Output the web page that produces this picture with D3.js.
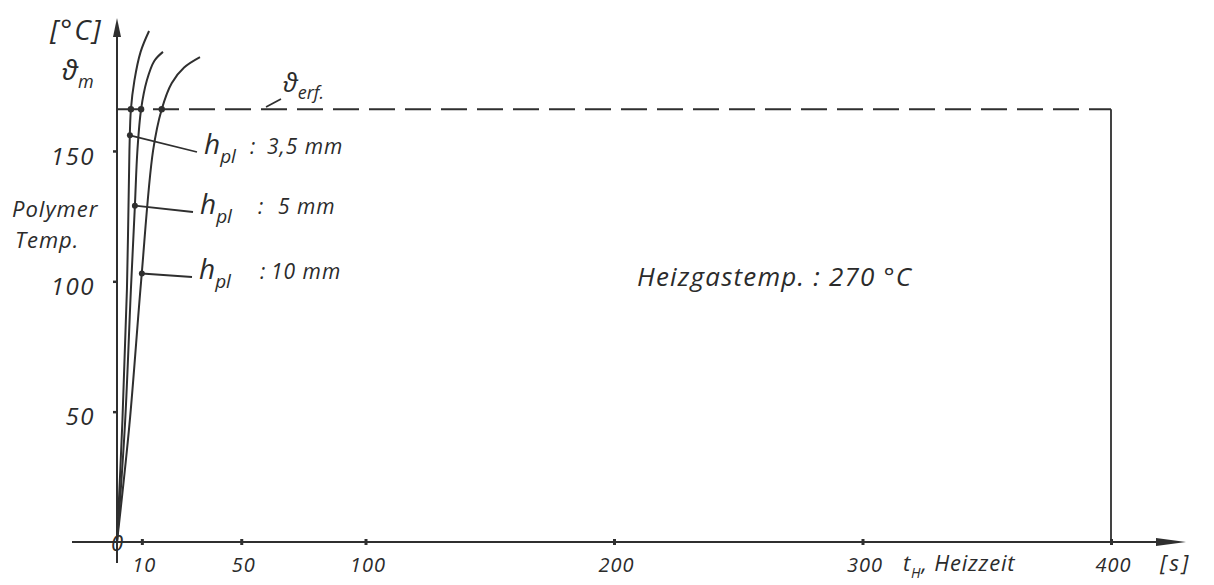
<!DOCTYPE html>
<html>
<head>
<meta charset="utf-8">
<script src="https://cdn.jsdelivr.net/npm/d3@7"></script>
<style>
  body { margin: 0; background: #fff; }
  svg text { font-family: "Open Sans", "DejaVu Sans", sans-serif; font-style: italic; fill: #2b2b2b; }
</style>
</head>
<body>
<svg id="chart" width="1214" height="585"></svg>
<script>
// heating time [s] vs polymer temperature [°C]
var xTicks = [10, 50, 100, 200, 300, 400];
var yTicks = [50, 100, 150];
var tErf = 166;      // required temperature (dashed line)
var tEnd = 400;      // end of the time window

var names = ["3,5 mm", "5 mm", "10 mm"];
var curve35 = [[0,0],[2.2,47],[4,97],[5,150],[5.6,166],[7,177],[9.5,188],[12.9,196]];
var curve5  = [[0,0],[3.2,45],[5.6,97],[7.2,129],[8.2,150],[9.7,166],[12,177],[15,184.5],[18.5,188]];
var curve10 = [[0,0],[5,45],[9.7,100],[14.5,150],[18,166],[22,176],[27,182],[33.4,186]];
var erfHits = [5.6, 9.7, 18];                 // where each curve meets the dashed line
var labelPts = [[5.2,156],[7.2,129],[10,103]]; // points the labels point at

var ink = "#2f2f2f";
var svg = d3.select("#chart");

var x = d3.scaleLinear().domain([0, 400]).range([117, 1111]);
var y = d3.scaleLinear().domain([0, 200]).range([542, 20.6]);

// axes ---------------------------------------------------------------
var xAxis = svg.append("g")
    .attr("transform", "translate(0," + y(0) + ")")
    .call(d3.axisBottom(x).tickValues(xTicks).tickSize(3).tickPadding(13));
xAxis.select(".domain").remove();
xAxis.selectAll(".tick line").attr("y1", -3).attr("y2", 3).attr("stroke", ink).attr("stroke-width", 3);
xAxis.selectAll(".tick text").attr("font-size", 20).attr("dx", 2).attr("letter-spacing", 1);

var yAxis = svg.append("g")
    .attr("transform", "translate(" + x(0) + ",0)")
    .call(d3.axisLeft(y).tickValues(yTicks).tickSize(4).tickPadding(18));
yAxis.select(".domain").remove();
yAxis.selectAll(".tick line").attr("x1", -4).attr("x2", 1).attr("stroke", ink).attr("stroke-width", 2.5);
yAxis.selectAll(".tick text").attr("font-size", 24).attr("dy", "0.55em").attr("letter-spacing", 1.5);
svg.selectAll(".tick text").attr("font-family", null).style("fill", "#2b2b2b");

// axis lines with arrows
svg.append("line").attr("x1", 72).attr("x2", 1160).attr("y1", y(0)).attr("y2", y(0))
    .attr("stroke", ink).attr("stroke-width", 2);
svg.append("path").attr("d", "M1186," + y(0) + "L1156," + (y(0) - 4) + "L1156," + (y(0) + 4) + "Z")
    .attr("fill", ink);
svg.append("line").attr("x1", x(0)).attr("x2", x(0)).attr("y1", 563).attr("y2", 34)
    .attr("stroke", ink).attr("stroke-width", 2);
svg.append("path").attr("d", "M" + x(0) + ",18L" + (x(0) - 4) + ",37L" + (x(0) + 4) + ",37Z")
    .attr("fill", ink);

svg.append("text").attr("x", x(0)).attr("y", y(0)).attr("text-anchor", "middle")
    .attr("dominant-baseline", "central").attr("font-size", 22).text("0");

// required temperature and end of window
svg.append("line").attr("x1", x(0)).attr("x2", x(tEnd)).attr("y1", y(tErf)).attr("y2", y(tErf))
    .attr("stroke", ink).attr("stroke-width", 2).attr("stroke-dasharray", "26,10");
svg.append("line").attr("x1", x(tEnd)).attr("x2", x(tEnd)).attr("y1", y(tErf)).attr("y2", y(0))
    .attr("stroke", ink).attr("stroke-width", 1.8);

// curves -------------------------------------------------------------
var line = d3.line().x(function(d){ return x(d[0]); }).y(function(d){ return y(d[1]); })
    .curve(d3.curveCatmullRom.alpha(0.5));
[curve35, curve5, curve10].forEach(function(c){
  svg.append("path").attr("d", line(c)).attr("fill", "none")
      .attr("stroke", ink).attr("stroke-width", 2);
});

erfHits.forEach(function(t){
  svg.append("circle").attr("cx", x(t)).attr("cy", y(tErf)).attr("r", 3.2).attr("fill", ink);
});

// labels with leader lines
var labelAt = [[197, 152], [193, 212], [192, 277]];
var colonX = [250, 258, 260];
var nameX = [267, 278, 271];
labelPts.forEach(function(p, i){
  svg.append("circle").attr("cx", x(p[0])).attr("cy", y(p[1])).attr("r", 3).attr("fill", ink);
  svg.append("line").attr("x1", x(p[0])).attr("y1", y(p[1]))
      .attr("x2", labelAt[i][0]).attr("y2", labelAt[i][1])
      .attr("stroke", ink).attr("stroke-width", 1.8);
  var t = svg.append("text").attr("x", labelAt[i][0] + 7).attr("y", labelAt[i][1] + 2);
  t.append("tspan").attr("font-size", 28).text("h");
  t.append("tspan").attr("font-size", 19).attr("dy", 9).text("pl");
  t.append("tspan").attr("font-size", 21).attr("dy", -9).attr("x", colonX[i]).text(":");
  t.append("tspan").attr("font-size", 21).attr("x", nameX[i]).attr("letter-spacing", 1).text(names[i]);
});

// text ---------------------------------------------------------------
svg.append("text").attr("x", 50).attr("y", 40).attr("font-size", 28).attr("letter-spacing", 2).text("[°C]");
var th = svg.append("text").attr("x", 62).attr("y", 80);
th.append("tspan").attr("font-size", 28).text("ϑ");
th.append("tspan").attr("font-size", 18).attr("dy", 8).text("m");

svg.append("text").attr("x", 12).attr("y", 217).attr("font-size", 22).attr("letter-spacing", 1).text("Polymer");
svg.append("text").attr("x", 15).attr("y", 248).attr("font-size", 22).attr("letter-spacing", 1).text("Temp.");

svg.append("line").attr("x1", 266).attr("y1", 107).attr("x2", 281).attr("y2", 99)
    .attr("stroke", ink).attr("stroke-width", 1.6);
var te = svg.append("text").attr("x", 283).attr("y", 92);
te.append("tspan").attr("font-size", 26).text("ϑ");
te.append("tspan").attr("font-size", 18).attr("dy", 7).text("erf.");

svg.append("text").attr("x", 637).attr("y", 286).attr("font-size", 26).attr("letter-spacing", 1.2)
    .text("Heizgastemp. : 270 °C");

var tl = svg.append("text").attr("x", 903).attr("y", 571).attr("font-size", 22).attr("letter-spacing", 0.8);
tl.append("tspan").text("t");
tl.append("tspan").attr("font-size", 14).attr("dy", 7).text("H");
tl.append("tspan").attr("dy", -7).text(", Heizzeit");
svg.append("text").attr("x", 1160).attr("y", 571).attr("font-size", 22).attr("letter-spacing", 3).text("[s]");
</script>
</body>
</html>
